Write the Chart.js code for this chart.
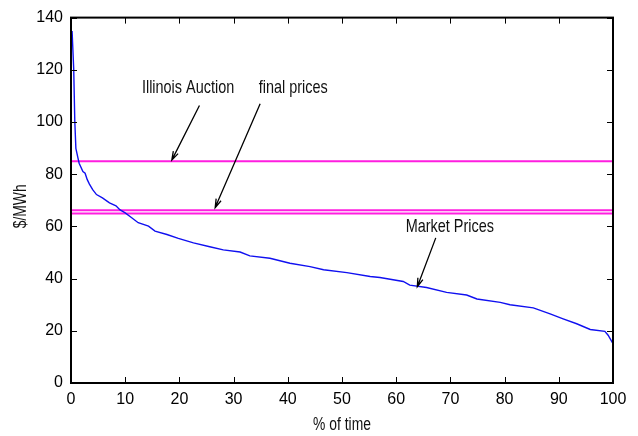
<!DOCTYPE html>
<html>
<head>
<meta charset="utf-8">
<title>Price duration curve</title>
<script src="https://cdn.jsdelivr.net/npm/chart.js@4/dist/chart.umd.min.js"></script>
<style>
  html, body { margin: 0; padding: 0; background: #fff; }
  #wrap { width: 638px; height: 436px; }
</style>
</head>
<body>
<div id="wrap"><canvas id="c" width="638" height="436"></canvas></div>
<script>
// Hourly market prices sorted high to low (price duration curve)
const pctTime = [0.2, 0.5, 0.7, 0.9, 1.3, 1.5, 2.2, 2.6, 3.0, 3.4, 4.0, 4.7, 5.8, 7.1, 8.3, 9.0,
  10.0, 11.2, 12.4, 14.3, 15.5, 17.7, 19.8, 22.6, 25.6, 28.1, 31.2, 33.0, 36.7, 40.4, 44.1,
  46.6, 50.9, 55.2, 57.0, 61.3, 62.5, 65.6, 69.3, 73.0, 74.9, 79.2, 81.0, 85.3, 88.4, 90.8,
  93.3, 95.8, 98.5, 99.1, 100];
const marketPrice = [134.9, 120.3, 100.3, 89.9, 86.1, 84.2, 81.0, 80.4, 77.9, 76.2, 74.1, 72.2,
  70.9, 69.0, 67.9, 66.4, 65.2, 63.3, 61.4, 60.1, 58.2, 56.9, 55.4, 53.7, 52.2, 51.0, 50.2,
  48.7, 47.8, 45.9, 44.6, 43.4, 42.3, 40.8, 40.4, 38.9, 37.5, 36.6, 34.7, 33.7, 32.2, 30.9,
  30.0, 28.8, 26.5, 24.6, 22.7, 20.5, 19.8, 18.3, 15.1];

// Illinois auction final prices ($/MWh)
const auctionPrices = [85, 66.2, 64.9];

// Axis ticks
const xTicks = [0, 10, 20, 30, 40, 50, 60, 70, 80, 90, 100];
const yTicks = [0, 20, 40, 60, 80, 100, 120, 140];

// Callout labels and their arrows, in data units (% of time, $/MWh)
const noteText = ['Illinois Auction', 'final prices', 'Market Prices'];
const noteAt = [[21.6, 113.2], [41.0, 113.2], [69.9, 59.8]];
const arrowFrom = [[23.7, 106.3], [34.9, 107.0], [67.3, 55.6]];
const arrowTo = [[18.6, 85.4], [26.6, 67.2], [63.9, 36.9]];

const xTitle = '% of time';
const yTitle = '$/MWh';

const textFamily = '"Liberation Sans", Arial, sans-serif';

const datasets = [{
  label: 'Market Prices',
  data: pctTime.map((t, i) => ({ x: t, y: marketPrice[i] })),
  borderColor: '#1010f0',
  borderWidth: 1.4,
  pointRadius: 0,
  tension: 0,
  fill: false
}].concat(auctionPrices.map(p => ({
  label: 'Auction ' + p,
  data: [{ x: 0, y: p }, { x: 100, y: p }],
  borderColor: '#ff1ee0',
  borderWidth: 2,
  pointRadius: 0,
  fill: false
})));

// Narrow lettering: regular sans squeezed horizontally
function narrowText(ctx, text, x, y, size, squeeze, angle) {
  ctx.save();
  ctx.translate(x, y);
  if (angle) ctx.rotate(angle);
  ctx.scale(squeeze, 1);
  ctx.font = size + 'px ' + textFamily;
  ctx.textAlign = 'center';
  ctx.textBaseline = 'middle';
  ctx.fillStyle = '#111';
  ctx.fillText(text, 0, 0);
  ctx.restore();
}

// Plot frame with inward tick marks on all four sides, plus axis titles
const framePlugin = {
  id: 'frame',
  afterDatasetsDraw(chart) {
    const { ctx, chartArea: a, scales: { x, y } } = chart;
    ctx.save();
    ctx.strokeStyle = '#000';
    ctx.lineWidth = 1;
    const len = 6;
    ctx.beginPath();
    xTicks.forEach(v => {
      const px = Math.round(x.getPixelForValue(v)) + 0.5;
      ctx.moveTo(px, a.bottom); ctx.lineTo(px, a.bottom - len);
      ctx.moveTo(px, a.top); ctx.lineTo(px, a.top + len);
    });
    yTicks.forEach(v => {
      const py = Math.round(y.getPixelForValue(v)) + 0.5;
      ctx.moveTo(a.left, py); ctx.lineTo(a.left + len, py);
      ctx.moveTo(a.right, py); ctx.lineTo(a.right - len, py);
    });
    ctx.stroke();
    ctx.lineWidth = 2;
    ctx.strokeRect(a.left, a.top, a.right - a.left, a.bottom - a.top);
    ctx.restore();

    narrowText(ctx, xTitle, (a.left + a.right) / 2, 425, 18, 0.77, 0);
    narrowText(ctx, yTitle, 21, (a.top + a.bottom) / 2 + 6, 18, 0.77, -Math.PI / 2);
  }
};

// Callout labels with open-headed arrows
const notesPlugin = {
  id: 'notes',
  afterDatasetsDraw(chart) {
    const { ctx, scales: { x, y } } = chart;
    noteText.forEach((t, i) => {
      narrowText(ctx, t, x.getPixelForValue(noteAt[i][0]), y.getPixelForValue(noteAt[i][1]), 19, 0.76, 0);
    });
    ctx.save();
    ctx.strokeStyle = '#000';
    ctx.lineWidth = 1.3;
    arrowFrom.forEach((f, i) => {
      const x0 = x.getPixelForValue(f[0]), y0 = y.getPixelForValue(f[1]);
      const x1 = x.getPixelForValue(arrowTo[i][0]), y1 = y.getPixelForValue(arrowTo[i][1]);
      const ang = Math.atan2(y1 - y0, x1 - x0);
      const head = 9, spread = 0.3;
      ctx.beginPath();
      ctx.moveTo(x0, y0); ctx.lineTo(x1, y1);
      ctx.moveTo(x1 - head * Math.cos(ang - spread), y1 - head * Math.sin(ang - spread));
      ctx.lineTo(x1, y1);
      ctx.lineTo(x1 - head * Math.cos(ang + spread), y1 - head * Math.sin(ang + spread));
      ctx.stroke();
    });
    ctx.restore();
  }
};

new Chart(document.getElementById('c'), {
  type: 'line',
  data: { datasets },
  options: {
    responsive: false,
    animation: false,
    devicePixelRatio: 1,
    layout: { padding: { top: 15, right: 25, left: 0, bottom: 0 } },
    plugins: { legend: { display: false }, tooltip: { enabled: false } },
    scales: {
      x: {
        type: 'linear', min: 0, max: 100,
        afterBuildTicks: s => { s.ticks = xTicks.map(v => ({ value: v })); },
        afterFit: s => { s.height = 53; },
        grid: { display: false, drawTicks: false },
        border: { display: false },
        ticks: { color: '#000', padding: 7, maxRotation: 0, font: { family: textFamily, size: 16 } }
      },
      y: {
        type: 'linear', min: 0, max: 140,
        afterBuildTicks: s => { s.ticks = yTicks.map(v => ({ value: v })); },
        afterFit: s => { s.width = 71; },
        grid: { display: false, drawTicks: false },
        border: { display: false },
        ticks: { color: '#000', padding: 8, font: { family: textFamily, size: 16 } }
      }
    }
  },
  plugins: [framePlugin, notesPlugin]
});
</script>
</body>
</html>
